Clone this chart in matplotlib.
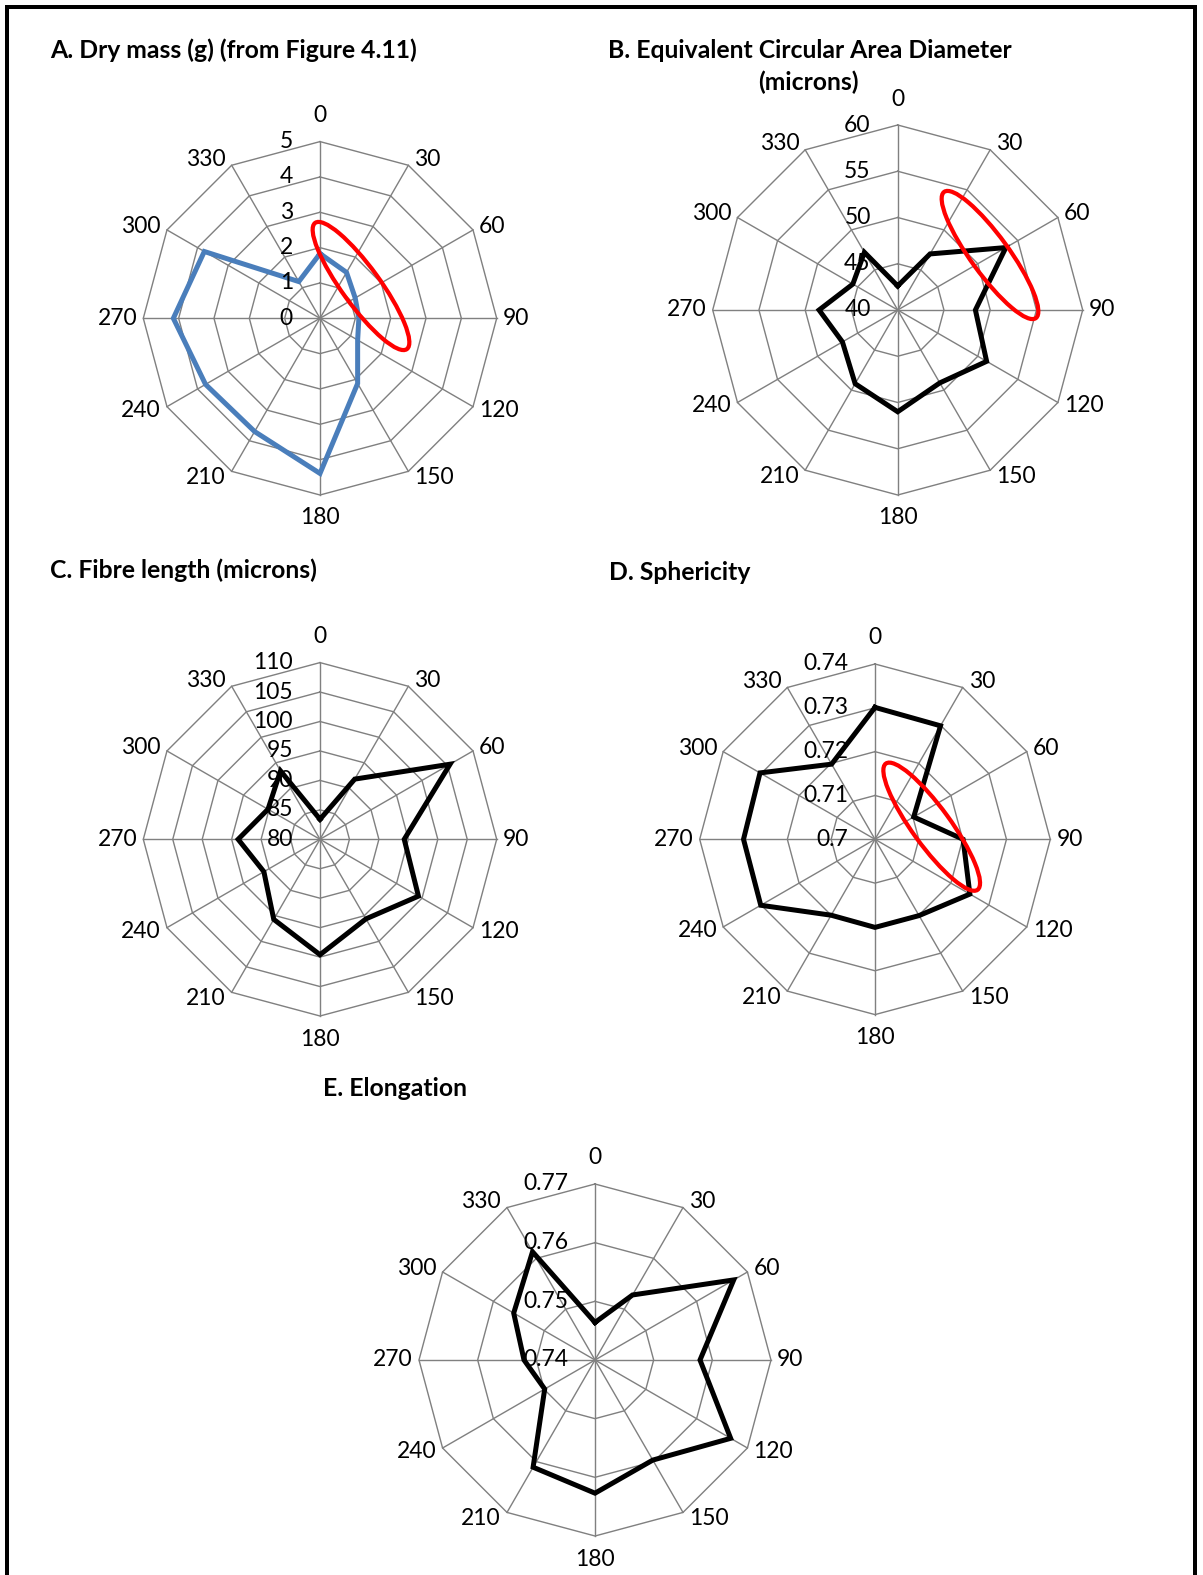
import numpy as np
import matplotlib
matplotlib.use("Agg")
import matplotlib.pyplot as plt
from matplotlib.patches import Ellipse, Rectangle

W, H = 1203, 1575
DPI = 100
PT = 72.0 / DPI  # points per pixel

# ---- data ----
angles = [0, 30, 60, 90, 120, 150, 180, 210, 240, 270, 300, 330]
cat_labels = [str(a) for a in angles]

dry_mass = [1.83, 1.50, 1.15, 1.10, 1.23, 2.13, 4.39, 3.70, 3.74, 4.15, 3.78, 1.20]
ecad = [42.6, 47.0, 53.5, 48.4, 51.1, 49.1, 51.0, 49.2, 46.9, 48.5, 45.6, 47.2]
fibre_length = [83.4, 91.8, 105.5, 94.3, 99.3, 95.6, 99.6, 95.7, 91.0, 93.9, 90.2, 93.4]
sphericity = [0.7301, 0.7299, 0.7102, 0.7201, 0.7250, 0.7201, 0.7201, 0.7200, 0.7301, 0.7300, 0.7303, 0.7198]
elongation = [0.7464, 0.7528, 0.7673, 0.7579, 0.7667, 0.7597, 0.7627, 0.7611, 0.7499, 0.7521, 0.7560, 0.7613]

ticks_a = [0, 1, 2, 3, 4, 5]
ticklab_a = ["0", "1", "2", "3", "4", "5"]
ticks_b = [40, 45, 50, 55, 60]
ticklab_b = ["40", "45", "50", "55", "60"]
ticks_c = [80, 85, 90, 95, 100, 105, 110]
ticklab_c = ["80", "85", "90", "95", "100", "105", "110"]
ticks_d = [0.70, 0.71, 0.72, 0.73, 0.74]
ticklab_d = ["0.7", "0.71", "0.72", "0.73", "0.74"]
ticks_e = [0.74, 0.75, 0.76, 0.77]
ticklab_e = ["0.74", "0.75", "0.76", "0.77"]

GRID = "#808080"
BLUE = "#4a7ebb"

plt.rcParams["font.family"] = ["Lato", "DejaVu Sans"]

fig = plt.figure(figsize=(W / DPI, H / DPI), dpi=DPI)

# outer frame
fig.add_artist(Rectangle((7 / W, -0.01), (1195 - 7) / W, 1 - 7 / H + 0.01,
                         transform=fig.transFigure, fill=False, lw=4 * PT,
                         edgecolor="black"))

TITLE_FONT = dict(fontsize=17.8, fontweight="bold")
LABEL_SIZE = 16.5


def ftext(x, y, s, **kw):
    fig.text(x / W, 1 - y / H, s, **kw)


ftext(50, 50, "A. Dry mass (g) (from Figure 4.11)", ha="left", va="center", **TITLE_FONT)
ftext(608, 50, "B. Equivalent Circular Area Diameter", ha="left", va="center", **TITLE_FONT)
ftext(808, 82, "(microns)", ha="center", va="center", **TITLE_FONT)
ftext(50, 570, "C. Fibre length (microns)", ha="left", va="center", **TITLE_FONT)
ftext(609, 572, "D. Sphericity", ha="left", va="center", **TITLE_FONT)
ftext(323, 1088, "E. Elongation", ha="left", va="center", **TITLE_FONT)


def radar(cx, cy, R, values, ticks, ticklabels, color, ellipse=None):
    half = R + 80
    ax = fig.add_axes([(cx - half) / W, 1 - (cy + half) / H, 2 * half / W, 2 * half / H])
    lim = half / R
    ax.set_xlim(-lim, lim)
    ax.set_ylim(-lim, lim)
    ax.axis("off")

    th = np.deg2rad(angles + [angles[0]])
    lo, hi = ticks[0], ticks[-1]

    # rings
    for t in ticks[1:]:
        r = (t - lo) / (hi - lo)
        ax.plot(r * np.sin(th), r * np.cos(th), color=GRID, lw=1.4 * PT, zorder=1)
    # spokes
    for a in np.deg2rad(angles):
        ax.plot([0, np.sin(a)], [0, np.cos(a)], color=GRID, lw=1.4 * PT, zorder=1)

    # data series
    r = (np.array(values + [values[0]]) - lo) / (hi - lo)
    ax.plot(r * np.sin(th), r * np.cos(th), color=color, lw=5 * PT,
            solid_joinstyle="miter", zorder=3)

    # radial tick labels along the 0 spoke
    for t, lab in zip(ticks, ticklabels):
        rr = (t - lo) / (hi - lo)
        ax.annotate(lab, xy=(0, rr), xytext=(-27 * PT, 0), textcoords="offset points",
                    ha="right", va="center", fontsize=LABEL_SIZE, zorder=4)

    # category labels
    for a, lab in zip(angles, cat_labels):
        s, c = np.sin(np.deg2rad(a)), np.cos(np.deg2rad(a))
        if abs(s) < 0.1:
            ha = "center"
            dx = 0
            dy = 26 if c > 0 else -23
        else:
            ha = "left" if s > 0 else "right"
            dx = 6 if s > 0 else -6
            dy = 7 * c
        ax.annotate(lab, xy=(s, c), xytext=(dx * PT, dy * PT), textcoords="offset points",
                    ha=ha, va="center", fontsize=LABEL_SIZE, zorder=4)

    if ellipse is not None:
        ex, ey = ellipse
        ax.add_patch(Ellipse(((ex - cx) / R, (cy - ey) / R), 156 / R, 38 / R, angle=-54,
                             fill=False, edgecolor="#ff0000", lw=4.2 * PT, zorder=5))
    return ax


radar(320, 318.3, 176.7, dry_mass, ticks_a, ticklab_a, BLUE, ellipse=(361, 286))
radar(897.7, 310, 185, ecad, ticks_b, ticklab_b, "black", ellipse=(990, 255))
radar(320, 839.3, 176.7, fibre_length, ticks_c, ticklab_c, "black")
radar(875, 839.3, 175.3, sphericity, ticks_d, ticklab_d, "black", ellipse=(931.7, 826.7))
radar(595, 1360, 176, elongation, ticks_e, ticklab_e, "black")

fig.savefig("out.png", dpi=DPI)
